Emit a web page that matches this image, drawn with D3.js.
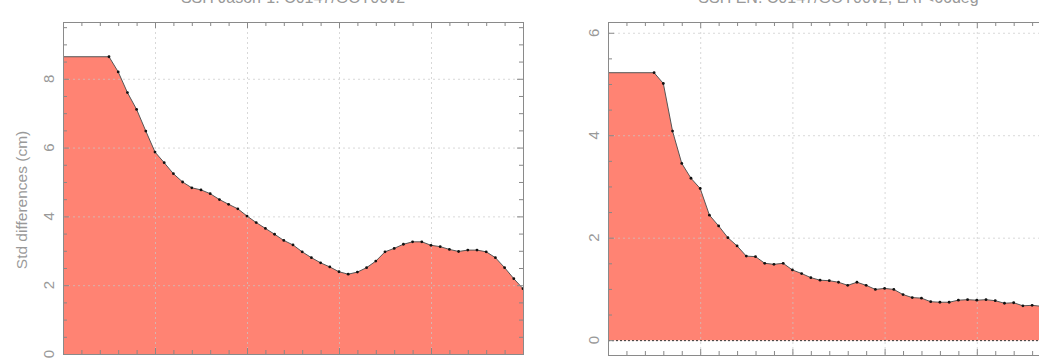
<!DOCTYPE html>
<html>
<head>
<meta charset="utf-8">
<script src="https://cdn.jsdelivr.net/npm/d3@7"></script>
<style>
  body { margin: 0; background: #fff; }
  svg { display: block; }
</style>
</head>
<body>
<svg id="chart" width="1039" height="362"></svg>
<script>
// Data
const xMajorTicks = [0, 10, 20, 30, 40, 50];
const xMinorTicks = [0, 2, 4, 6, 8, 10, 12, 14, 16, 18, 20, 22, 24, 26, 28, 30, 32, 34, 36, 38, 40, 42, 44, 46, 48, 50];

const leftX = [5, 6, 7, 8, 9, 10, 11, 12, 13, 14, 15, 16, 17, 18, 19, 20, 21, 22, 23, 24, 25, 26, 27,
    28, 29, 30, 31, 32, 33, 34, 35, 36, 37, 38, 39, 40, 41, 42, 43, 44, 45, 46, 47, 48, 49, 50];
const leftStd = [8.64, 8.20, 7.60, 7.11, 6.48, 5.87, 5.56, 5.24, 5.00, 4.83, 4.77, 4.66, 4.49, 4.35,
    4.22, 4.01, 3.82, 3.65, 3.48, 3.30, 3.17, 2.97, 2.80, 2.65, 2.53, 2.39, 2.32, 2.38, 2.51, 2.70,
    2.97, 3.07, 3.19, 3.26, 3.26, 3.16, 3.12, 3.04, 2.98, 3.02, 3.02, 2.97, 2.80, 2.51, 2.19, 1.90];

const rightX = leftX;
const rightStd = [5.22, 5.01, 4.08, 3.45, 3.16, 2.96, 2.44, 2.23, 2.00, 1.84, 1.64, 1.63, 1.50, 1.48,
    1.50, 1.37, 1.30, 1.22, 1.17, 1.16, 1.13, 1.07, 1.13, 1.07, 0.99, 1.01, 0.99, 0.89, 0.83, 0.82,
    0.75, 0.74, 0.74, 0.78, 0.79, 0.78, 0.79, 0.77, 0.72, 0.73, 0.67, 0.68, 0.66, 0.65, 0.64, 0.63];

const leftYTicks = [0, 2, 4, 6, 8];
const rightYTicks = [0, 2, 4, 6];
const titles = ['SSH Jason-1: C0147/GOT00v2', 'SSH EN: C0147/GOT00v2, LAT<66deg'];
const yTitle = 'Std differences (cm)';

// Styles
const fillColor = 'rgb(255,131,115)';
const textColor = '#999';
const font = 'Liberation Sans, Arial, sans-serif';

const svg = d3.select('#chart');

function drawPanel(opts) {
    const { x0, x1, top, bottom, yDomain, yTicks, xs, ys, title, zeroLine } = opts;

    const x = d3.scaleLinear().domain([0, 50]).range([x0, x1]);
    const y = d3.scaleLinear().domain(yDomain).range([bottom, top]);

    const g = svg.append('g');

    const clipId = 'clip' + Math.round(x0);
    g.append('clipPath').attr('id', clipId)
        .append('rect')
        .attr('x', x0).attr('y', top)
        .attr('width', x1 - x0).attr('height', bottom - top);

    // Area + line (flat extension to the left edge)
    const pts = xs.map((d, i) => [d, ys[i]]);
    const ext = [[0, ys[0]]].concat(pts);

    const plot = g.append('g').attr('clip-path', `url(#${clipId})`);

    plot.append('path')
        .datum(ext)
        .attr('fill', fillColor)
        .attr('d', d3.area().x(d => x(d[0])).y0(y(0)).y1(d => y(d[1])));

    // Grid on top of the fill
    const grid = plot.append('g')
        .attr('stroke', '#c8c8c8')
        .attr('stroke-opacity', 0.7)
        .attr('stroke-width', 1)
        .attr('stroke-dasharray', '2,3');
    grid.selectAll('.vg').data(xMajorTicks.slice(1, -1)).join('line')
        .attr('x1', d => x(d) + 0.5).attr('x2', d => x(d) + 0.5)
        .attr('y1', top).attr('y2', bottom);
    grid.selectAll('.hg').data(yTicks.filter(d => d !== 0 || !zeroLine)).join('line')
        .attr('x1', x0).attr('x2', x1)
        .attr('y1', d => y(d) + 0.5).attr('y2', d => y(d) + 0.5);

    if (zeroLine) {
        plot.append('line')
            .attr('x1', x0).attr('x2', x1)
            .attr('y1', y(0) + 0.5).attr('y2', y(0) + 0.5)
            .attr('stroke', '#333')
            .attr('stroke-width', 1)
            .attr('stroke-dasharray', '2,2');
    }

    plot.append('path')
        .datum(ext)
        .attr('fill', 'none')
        .attr('stroke', '#555')
        .attr('stroke-width', 1)
        .attr('d', d3.line().x(d => x(d[0])).y(d => y(d[1])));

    plot.selectAll('.dot').data(pts).join('circle')
        .attr('cx', d => x(d[0]))
        .attr('cy', d => y(d[1]))
        .attr('r', 1.4)
        .attr('fill', '#111');

    // Inward ticks on all four sides
    const minorY = d3.range(Math.ceil(yDomain[0] * 2) / 2, yDomain[1], 0.5);
    const tk = g.append('g').attr('stroke', '#888').attr('stroke-width', 1);
    tk.selectAll('.tb').data(xMinorTicks).join('line')
        .attr('x1', d => x(d) + 0.5).attr('x2', d => x(d) + 0.5)
        .attr('y1', bottom).attr('y2', d => bottom - (xMajorTicks.includes(d) ? 6 : 4));
    tk.selectAll('.tt').data(xMinorTicks).join('line')
        .attr('x1', d => x(d) + 0.5).attr('x2', d => x(d) + 0.5)
        .attr('y1', top).attr('y2', d => top + (xMajorTicks.includes(d) ? 6 : 4));
    tk.selectAll('.tl').data(minorY).join('line')
        .attr('x1', x0).attr('x2', d => x0 + (yTicks.includes(d) ? 6 : 4))
        .attr('y1', d => y(d) + 0.5).attr('y2', d => y(d) + 0.5);
    tk.selectAll('.tr').data(minorY).join('line')
        .attr('x1', x1).attr('x2', d => x1 - (yTicks.includes(d) ? 6 : 4))
        .attr('y1', d => y(d) + 0.5).attr('y2', d => y(d) + 0.5);

    // Frame
    g.append('rect')
        .attr('x', x0 + 0.5).attr('y', top + 0.5)
        .attr('width', x1 - x0).attr('height', bottom - top)
        .attr('fill', 'none')
        .attr('stroke', '#8a8a8a')
        .attr('stroke-width', 1);

    // Y tick labels (rotated)
    g.selectAll('.yl').data(yTicks).join('text')
        .attr('transform', d => `translate(${x0 - 15},${y(d)}) rotate(-90)`)
        .attr('text-anchor', 'middle')
        .attr('dominant-baseline', 'central')
        .attr('font-family', font)
        .attr('font-size', 15)
        .attr('fill', textColor)
        .text(d => d);

    // Title (mostly above the visible area, as in the source)
    g.append('text')
        .attr('x', (x0 + x1) / 2).attr('y', 3)
        .attr('text-anchor', 'middle')
        .attr('font-family', font)
        .attr('font-size', 16)
        .attr('fill', textColor)
        .text(title);
}

drawPanel({
    x0: 63, x1: 523, top: 22, bottom: 354,
    yDomain: [0, 9.65], yTicks: leftYTicks,
    xs: leftX, ys: leftStd, title: titles[0], zeroLine: false
});

drawPanel({
    x0: 608, x1: 1069, top: 22, bottom: 355,
    yDomain: [-0.29, 6.21], yTicks: rightYTicks,
    xs: rightX, ys: rightStd, title: titles[1], zeroLine: true
});

// Y axis title
svg.append('text')
    .attr('transform', 'translate(21,200) rotate(-90)')
    .attr('text-anchor', 'middle')
    .attr('dominant-baseline', 'central')
    .attr('font-family', font)
    .attr('font-size', 15.5)
    .attr('fill', textColor)
    .text(yTitle);
</script>
</body>
</html>
